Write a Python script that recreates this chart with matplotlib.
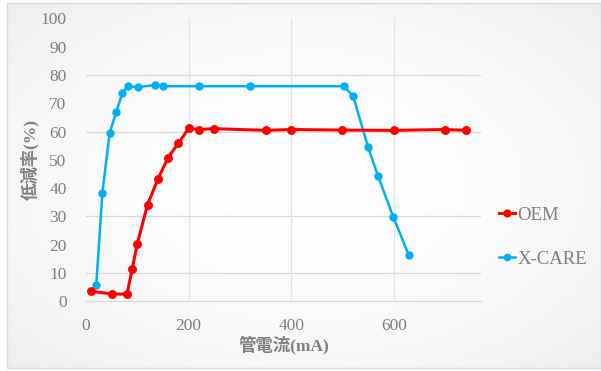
import numpy as np
import matplotlib.pyplot as plt
from matplotlib.patches import Rectangle

# 管電流ごとの低減率
oem_ma = [10, 50, 80, 90, 100, 120, 140, 160, 180, 200, 220, 250, 350, 400, 500, 600, 700, 740]
oem_rate = [3.6, 2.6, 2.5, 11.4, 20.3, 34.2, 43.1, 50.8, 55.8, 61.1, 60.7, 61.0, 60.4, 60.7, 60.5, 60.4, 60.7, 60.4]

xcare_ma = [20, 32, 46, 59, 71, 81, 101, 134, 150, 220, 320, 503, 521, 550, 569, 599, 629]
xcare_rate = [5.9, 38.4, 59.4, 66.9, 73.6, 76.0, 75.7, 76.4, 76.0, 76.0, 76.0, 76.0, 72.4, 54.4, 44.4, 29.8, 16.4]

series_names = ['OEM', 'X-CARE']
series_colors = ['#FF0000', '#00B0F0']

W, H = 601, 371
fig = plt.figure(figsize=(W / 100, H / 100), dpi=100, facecolor='white')

# 背景のグラデーション(中心が白、外側が薄いグレー)
bx0, by0, bx1, by1 = 7, 3, 601, 368
bg = fig.add_axes([bx0 / W, 1 - by1 / H, (bx1 - bx0) / W, (by1 - by0) / H], zorder=-5)
gx, gy = np.meshgrid(np.linspace(-1, 1, 300), np.linspace(-1, 1, 200))
r = np.clip(np.sqrt(gx ** 2 + gy ** 2) / np.sqrt(2), 0, 1)
shade = 1 - 0.065 * r ** 1.8
bg.imshow(np.dstack([shade] * 3), aspect='auto', extent=[0, 1, 0, 1])
bg.set_axis_off()
fig.patches.append(Rectangle((bx0 / W, 1 - by1 / H), (bx1 - bx0) / W, (by1 - by0) / H,
                             transform=fig.transFigure, fill=False, edgecolor='#d9d9d9', lw=1.0, zorder=10))

ax = fig.add_axes([86 / W, 1 - 301.3 / H, (481 - 86) / W, (301.3 - 18.3) / H])
ax.set_facecolor('none')

ax.plot(oem_ma, oem_rate, color=series_colors[0], lw=2.2, marker='o', ms=5.4, label=series_names[0], zorder=4)
ax.plot(xcare_ma, xcare_rate, color=series_colors[1], lw=1.8, marker='o', ms=5.0, label=series_names[1], zorder=3)

ax.set_xlim(0, 770)
ax.set_ylim(0, 100)
ax.set_xticks([0, 200, 400, 600])
ax.set_yticks(range(0, 101, 10))

# 目盛線
for yv in [10, 30, 60, 80]:
    ax.axhline(yv, color='#d9d9d9', lw=0.9, zorder=1)
for xv in [200, 400, 600]:
    ax.axvline(xv, color='#e3e3e3', lw=0.9, zorder=1)

for s in ['top', 'right', 'left']:
    ax.spines[s].set_visible(False)
ax.spines['bottom'].set_color('#d9d9d9')
ax.spines['bottom'].set_linewidth(0.9)
ax.tick_params(length=0, labelsize=12.5, labelcolor='#7f7f7f')
ax.tick_params(axis='y', pad=14)
ax.tick_params(axis='x', pad=12)
for lab in ax.get_xticklabels() + ax.get_yticklabels():
    lab.set_family('Liberation Serif')

lab_font = ['Liberation Serif', 'Noto Sans CJK JP']
ax.set_xlabel('管電流(mA)', family=lab_font, fontsize=12.5, color='#7f7f7f', fontweight='bold', labelpad=1)
ax.set_ylabel('低減率(%)', family=lab_font, fontsize=12.5, color='#7f7f7f', fontweight='bold', labelpad=1)

fig.legend(*ax.get_legend_handles_labels(), loc='center left',
           bbox_to_anchor=(499 / W, 1 - 237.3 / H), bbox_transform=fig.transFigure,
           frameon=False, borderpad=0, borderaxespad=0, handlelength=0.85,
           handletextpad=0.12, labelspacing=1.45, prop={'family': 'Liberation Serif', 'size': 13.5},
           labelcolor='#7f7f7f', markerscale=0.9)

fig.savefig('out.png', dpi=100, facecolor='white')
